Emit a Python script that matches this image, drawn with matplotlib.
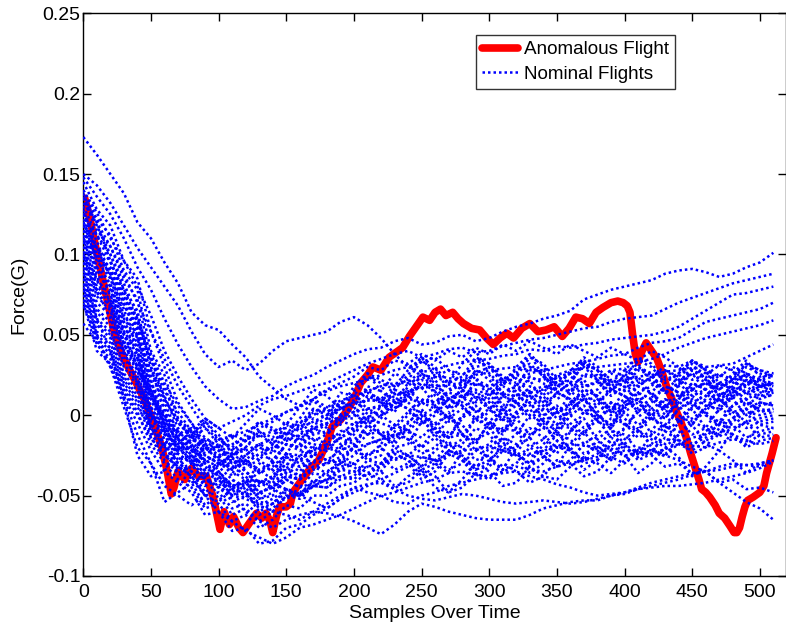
import matplotlib
matplotlib.use("Agg")
import matplotlib.pyplot as plt
import numpy as np

plt.rcParams['font.family'] = ['Liberation Sans', 'DejaVu Sans']

# ---------------- data ----------------
# Sample positions for the nominal flights (every 10 samples)
nom_x = list(range(0, 511, 10))

# Nominal flights, values in milli-G
nom_u1 = [173,162,150,138,120,110,95,82,64,56,53,44,36,24,17,10,6,9,2,8,12,4,6,12,15,9,8,15,19,11,13,20,23,14,16,24,26,18,21,28,29,21,23,31,30,22,25,31,28,20,23,26]
nom_u2 = [150,143,132,118,104,92,80,68,52,38,30,34,28,32,40,46,48,50,52,58,61,56,48,38,30,33,36,28,25,30,32,24,20,26,28,20,18,24,25,18,15,20,22,14,12,17,20,13,14,19,22,18]
nom_u3 = [148,136,125,110,92,78,60,44,30,18,10,4,5,9,12,18,22,25,30,34,38,41,42,46,48,44,45,49,50,46,48,52,55,57,60,62,65,72,75,78,80,82,84,88,90,91,89,86,88,92,95,101]
nom_u4 = [140,126,110,96,80,62,40,24,10,-2,-8,-4,0,6,10,12,15,18,20,24,28,32,35,38,40,36,38,41,42,39,40,43,45,47,48,50,52,54,55,58,60,61,62,66,70,73,76,79,82,84,86,88]
nom_u5 = [132,120,105,88,70,52,35,18,5,-8,-15,-13,-10,-6,-2,2,5,10,15,18,20,22,25,28,30,27,28,31,33,34,35,37,38,41,40,43,42,44,45,47,48,49,50,52,55,60,65,70,75,76,78,80]
nom_u6 = [125,112,95,78,60,38,20,6,-5,-14,-20,-18,-15,-13,-10,-8,-5,0,5,9,12,15,18,20,20,23,25,23,22,25,28,29,30,28,28,30,32,33,35,37,38,42,45,46,48,53,58,60,62,64,66,70]
nom_u7 = [118,104,90,74,55,34,15,2,-10,-18,-25,-24,-22,-18,-15,-12,-8,-4,0,4,8,9,10,13,15,17,18,19,20,19,18,22,25,23,22,25,28,29,30,31,32,33,35,38,42,45,48,50,52,54,56,59]
nom_u8 = [110,100,88,70,48,28,10,-4,-15,-20,-22,-27,-30,-24,-20,-16,-12,-8,-5,-1,2,4,5,8,10,9,8,10,12,14,15,13,12,15,18,16,15,18,20,21,22,24,25,27,28,29,30,31,32,36,40,44]
nom_b1 = [145,128,118,96,85,52,30,8,-5,-18,-20,-30,-28,-36,-32,-24,-25,-22,-15,-12,-5,-4,2,10,8,0,5,14,12,2,8,18,14,6,10,20,15,8,12,22,18,9,14,24,20,12,16,25,22,13,18,20]
nom_b2 = [140,122,112,90,78,40,25,-2,-10,-20,-28,-28,-35,-44,-40,-30,-32,-30,-22,-20,-12,-2,-5,-8,0,8,4,-4,-2,10,5,-3,0,12,6,-2,2,12,8,0,4,14,10,2,6,16,12,6,10,20,15,14]
nom_b3 = [135,115,105,85,72,35,18,-5,-12,-25,-30,-32,-38,-48,-45,-38,-40,-34,-30,-28,-20,-12,-10,-14,-4,2,-8,-14,0,4,-4,-10,2,8,-2,-8,4,10,0,-6,6,10,2,-2,8,12,6,4,12,14,10,13]
nom_b4 = [130,112,100,78,65,30,12,-8,-18,-30,-35,-44,-42,-52,-48,-40,-45,-42,-35,-30,-25,-18,-15,-6,-10,-14,-5,0,-12,-16,-6,0,-10,-14,-4,2,-8,-12,-2,4,-6,-10,0,6,-4,-2,4,10,2,4,8,6]
nom_b5 = [128,104,96,72,60,25,8,-12,-20,-28,-32,-40,-45,-56,-52,-46,-48,-42,-40,-34,-30,-24,-22,-12,-15,-24,-20,-10,-12,-22,-18,-8,-10,-20,-15,-6,-8,-18,-12,-2,-5,-14,-10,2,-3,-12,-8,4,0,-8,-4,-2]
nom_b6 = [125,100,92,68,55,20,5,-15,-25,-35,-40,-50,-48,-58,-55,-48,-50,-44,-45,-40,-38,-28,-30,-22,-25,-32,-28,-18,-20,-28,-25,-14,-18,-26,-22,-12,-15,-24,-20,-10,-12,-22,-18,-6,-10,-18,-14,-4,-6,-14,-10,-8]
nom_b7 = [122,98,88,62,50,18,0,-20,-28,-30,-38,-46,-42,-52,-50,-40,-45,-36,-38,-30,-32,-40,-35,-24,-28,-38,-32,-22,-25,-34,-30,-18,-22,-32,-26,-16,-20,-30,-28,-14,-18,-28,-24,-10,-15,-24,-20,-8,-12,-20,-16,-14]
nom_b8 = [120,96,85,60,48,15,-2,-18,-22,-34,-30,-28,-35,-42,-38,-26,-30,-18,-20,-14,-10,2,0,4,10,20,15,4,8,22,18,6,12,24,20,10,15,26,22,12,18,28,25,14,20,30,26,18,22,32,28,24]
nom_b9 = [118,92,82,58,45,10,-5,-10,-18,-28,-25,-20,-28,-34,-30,-18,-22,-16,-12,-2,0,12,10,4,18,26,22,10,15,28,25,14,18,30,26,14,20,32,28,16,22,30,26,14,20,28,24,12,18,26,22,20]
nom_b10 = [115,90,80,55,42,5,-8,-14,-20,-16,-22,-30,-25,-18,-22,-10,-15,-8,-5,8,5,18,15,26,22,34,28,16,20,34,30,20,24,36,32,22,26,36,30,20,28,36,32,22,26,34,30,20,24,32,28,26]
nom_b11 = [112,88,78,52,40,2,-10,-20,-15,-8,-18,-26,-20,-12,-18,-6,-10,4,0,14,12,24,20,16,25,36,30,20,24,36,32,22,26,38,30,18,22,34,28,16,20,30,25,14,18,28,22,12,16,26,20,18]
nom_b12 = [110,84,75,50,38,0,-12,-28,-25,-38,-32,-24,-30,-36,-28,-18,-20,-12,-10,-2,-2,12,8,4,12,22,18,6,10,20,16,4,8,18,14,2,6,16,12,2,8,18,14,4,10,20,16,8,12,22,18,15]
nom_b13 = [108,80,72,46,35,12,-6,-22,-20,-30,-26,-38,-32,-28,-34,-24,-28,-22,-18,-10,-8,-12,-2,8,4,-6,0,10,6,-4,2,12,8,-2,4,14,10,0,6,16,12,2,8,18,14,4,10,20,16,6,12,14]
nom_b14 = [105,78,70,44,32,0,-15,-24,-30,-42,-35,-46,-40,-50,-42,-34,-38,-28,-30,-20,-22,-26,-18,-6,-10,-20,-14,-2,-6,-16,-10,4,-2,-12,-8,4,0,-8,-4,8,2,-6,-2,10,6,-4,2,14,10,0,6,8]
nom_b15 = [102,76,68,44,30,14,-4,-16,-12,-4,-15,-20,-12,-4,-8,-12,-2,10,5,0,15,26,22,18,28,36,24,20,32,40,26,18,30,38,24,16,28,34,22,14,26,32,20,14,24,32,22,16,26,34,24,25]
nom_b16 = [100,74,65,40,28,-5,-18,-30,-35,-48,-42,-54,-50,-40,-45,-32,-38,-24,-28,-22,-18,-6,-12,-16,-5,4,-10,-14,-2,6,-6,-12,2,8,-4,-10,4,10,0,-6,8,14,4,-2,10,16,8,2,14,18,12,12]
nom_b17 = [98,70,62,38,25,-8,-20,-14,-28,-36,-30,-26,-35,-42,-38,-30,-35,-24,-28,-30,-20,-6,-12,-18,-8,0,-14,-22,-18,-8,-12,-22,-20,-8,-14,-24,-10,-2,-16,-22,-8,2,-12,-18,-4,4,-8,-14,-2,4,-6,-4]
nom_b18 = [95,66,58,36,22,2,-12,-18,-10,-2,-8,-14,-5,4,0,-6,5,16,12,4,18,26,15,8,20,28,12,4,18,24,10,2,16,22,8,0,14,22,10,2,16,24,12,4,18,26,15,8,20,26,18,19]
nom_b19 = [92,64,55,32,20,-10,-25,-32,-38,-50,-45,-40,-48,-60,-55,-46,-50,-40,-42,-34,-35,-38,-30,-20,-25,-32,-22,-16,-28,-34,-20,-14,-24,-30,-18,-10,-22,-28,-15,-8,-18,-24,-12,-6,-16,-20,-10,-4,-12,-16,-6,-8]
nom_b20 = [90,60,52,30,18,-2,-15,-30,-25,-14,-20,-26,-15,-4,-10,-16,-5,4,2,-6,10,16,8,2,14,18,6,-2,12,16,4,-4,10,14,2,-6,8,12,0,-8,6,10,-2,-8,4,10,0,-6,6,10,2,4]
nom_b21 = [88,58,50,26,15,-12,-22,-36,-32,-20,-28,-34,-25,-18,-30,-36,-25,-14,-18,-24,-8,0,-12,-20,-18,-4,-10,-20,-15,-2,-8,-18,-12,0,-5,-16,-10,2,-2,-14,-8,4,0,-10,-4,6,2,-6,-2,8,4,2]
nom_b22 = [85,56,48,24,12,0,-8,-22,-15,-4,-12,-24,-20,-10,-18,-24,-12,-2,-8,-18,-15,-10,-20,-28,-25,-18,-30,-36,-22,-16,-28,-34,-20,-14,-25,-32,-18,-10,-22,-28,-15,-8,-20,-26,-12,-6,-18,-22,-10,-4,-14,-12]
nom_b23 = [82,52,45,22,10,-6,-18,-34,-30,-44,-40,-50,-45,-34,-40,-26,-32,-24,-20,-14,-8,-2,5,14,12,26,20,10,15,28,22,12,18,30,25,14,20,32,28,18,24,34,30,20,26,34,28,16,22,30,26,24]
nom_b24 = [80,50,42,20,8,-14,-28,-36,-42,-56,-50,-62,-58,-66,-60,-50,-52,-44,-40,-32,-30,-24,-22,-10,-15,-20,-8,2,-12,-18,-4,4,-8,-14,0,6,-5,-12,2,8,-2,-10,4,10,0,-6,6,12,2,-4,8,6]
nom_b25 = [78,48,40,18,5,-8,-20,-30,-35,-44,-38,-48,-42,-30,-35,-24,-28,-20,-22,-14,-18,-28,-25,-34,-30,-40,-35,-24,-28,-38,-32,-22,-25,-36,-30,-20,-22,-34,-28,-18,-25,-36,-30,-20,-26,-38,-32,-22,-28,-36,-30,-28]
nom_b26 = [75,46,38,16,2,-18,-30,-40,-45,-58,-55,-66,-62,-70,-65,-56,-58,-50,-50,-44,-42,-36,-40,-46,-38,-34,-45,-48,-40,-30,-35,-44,-42,-32,-38,-40,-32,-26,-30,-36,-28,-20,-22,-24,-18,-14,-12,-6,-8,-4,-2,0]
nom_b27 = [72,44,35,14,0,-14,-25,-32,-38,-50,-48,-58,-55,-62,-58,-50,-50,-44,-45,-38,-40,-32,-35,-44,-42,-34,-38,-48,-45,-36,-40,-30,-35,-42,-38,-28,-30,-38,-35,-26,-30,-22,-25,-32,-30,-36,-35,-42,-40,-46,-45,-48]
nom_b28 = [70,40,32,12,-5,-22,-35,-42,-48,-62,-60,-72,-70,-80,-78,-70,-68,-62,-58,-52,-48,-44,-40,-36,-32,-26,-28,-34,-30,-22,-26,-34,-30,-20,-25,-32,-28,-18,-22,-28,-18,-10,-15,-20,-12,-4,-8,-12,-4,2,0,2]
nom_b29 = [138,118,100,82,62,30,2,-15,-22,-28,-25,-32,-30,-24,-28,-18,-20,-10,-6,0,4,10,8,16,12,6,14,20,16,8,12,22,18,10,14,24,20,12,16,26,22,14,18,28,24,16,20,26,22,14,18,20]
nom_b30 = [126,108,88,70,52,22,-6,-24,-30,-20,-26,-34,-28,-20,-24,-14,-18,-8,-12,-4,-6,4,0,-6,2,10,6,-2,4,12,8,0,6,14,10,2,8,16,12,4,10,18,14,6,12,20,16,10,14,22,18,16]
nom_b31 = [136,120,96,76,58,36,10,-4,-14,-22,-18,-12,-16,-8,-4,2,6,10,16,20,24,30,28,34,32,38,34,40,36,42,38,44,40,46,42,38,44,40,36,42,38,34,40,36,30,34,28,24,30,26,22,24]
nom_b32 = [98,84,66,44,28,14,-2,-12,-8,-18,-14,-22,-16,-10,-14,-4,-8,2,-2,6,2,-6,0,8,4,-4,2,10,6,-2,4,12,8,0,6,14,10,2,8,16,12,4,10,18,14,8,12,20,16,10,14,16]
nom_b33 = [68,50,30,10,-12,-30,-44,-50,-56,-50,-54,-46,-50,-42,-46,-38,-40,-32,-36,-28,-30,-36,-32,-24,-28,-34,-30,-22,-26,-32,-28,-20,-24,-30,-26,-18,-22,-28,-24,-16,-20,-26,-22,-14,-18,-22,-16,-10,-14,-18,-12,-10]
nom_b34 = [120,104,86,66,40,16,-8,-2,-12,-24,-20,-14,-22,-28,-18,-10,-16,-6,-2,4,8,14,10,18,22,16,24,28,20,26,30,22,28,32,24,20,26,30,22,28,24,18,24,28,22,26,20,16,22,24,18,20]
nom_l1 = [57,45,30,5,-20,-30,-54,-48,-42,-38,-35,-44,-40,-48,-45,-36,-40,-32,-30,-26,-20,-18,-15,-12,-10,-2,-5,-14,-12,-2,-6,-10,-2,4,-8,-12,0,6,-4,-8,2,8,-2,-6,4,8,0,-4,6,10,2,4]
nom_l2 = [85,60,40,10,-25,-38,-35,-20,-28,-40,-45,-50,-52,-56,-60,-62,-65,-60,-55,-50,-45,-48,-50,-54,-55,-50,-48,-44,-42,-40,-38,-36,-35,-38,-40,-43,-45,-48,-50,-49,-48,-45,-42,-40,-38,-36,-35,-32,-30,-31,-32,-28]
nom_d1 = [95,78,60,40,20,5,-10,-20,-30,-38,-45,-52,-60,-66,-70,-65,-62,-60,-61,-63,-66,-70,-74,-68,-60,-55,-57,-60,-62,-64,-65,-65,-65,-62,-58,-56,-54,-53,-53,-50,-48,-46,-45,-44,-44,-43,-42,-40,-38,-36,-33,-29]
nom_d2 = [100,86,70,50,30,12,-5,-15,-25,-32,-38,-44,-50,-54,-55,-52,-48,-44,-40,-38,-35,-32,-30,-27,-25,-26,-28,-25,-22,-21,-20,-22,-25,-24,-22,-20,-18,-19,-20,-22,-25,-24,-22,-25,-28,-32,-35,-42,-48,-54,-58,-65]
nom_d3 = [115,98,80,58,35,15,0,-10,-20,-25,-30,-35,-40,-41,-42,-46,-50,-54,-58,-52,-45,-43,-42,-46,-50,-52,-53,-51,-49,-50,-52,-54,-55,-54,-53,-54,-55,-54,-52,-50,-49,-46,-44,-42,-40,-37,-35,-34,-32,-31,-30,-28]
nom_d4 = [108,92,75,52,30,10,-10,-25,-40,-50,-60,-66,-72,-76,-80,-76,-70,-68,-65,-62,-58,-54,-50,-48,-45,-42,-40,-36,-35,-37,-38,-35,-32,-34,-35,-32,-30,-28,-26,-24,-22,-23,-24,-21,-18,-19,-20,-17,-15,-16,-18,-16]

nominal = [nom_u1, nom_u2, nom_u3, nom_u4, nom_u5, nom_u6, nom_u7, nom_u8,
           nom_b1, nom_b2, nom_b3, nom_b4, nom_b5, nom_b6, nom_b7, nom_b8, nom_b9,
           nom_b10, nom_b11, nom_b12, nom_b13, nom_b14, nom_b15, nom_b16, nom_b17,
           nom_b18, nom_b19, nom_b20, nom_b21, nom_b22, nom_b23, nom_b24, nom_b25,
           nom_b26, nom_b27, nom_b28, nom_b29, nom_b30, nom_b31, nom_b32, nom_b33,
           nom_b34, nom_l1, nom_l2, nom_d1, nom_d2, nom_d3, nom_d4]

# Anomalous flight (samples, milli-G)
anom_x = [1,5,9,16,23,30,38,45,52,58,62,65,67,70,75,80,85,91,96,101,104,108,111,115,118,122,
          128,132,135,138,140,143,145,150,153,155,160,167,174,180,184,190,195,200,205,210,214,
          220,226,231,236,241,246,251,256,260,264,268,273,277,281,287,293,298,303,308,313,318,
          324,330,336,342,348,354,359,364,369,374,379,384,390,395,399,402,404,406,408,410,413,
          416,420,424,428,431,435,438,442,446,449,452,455,457,460,463,467,470,474,478,481,483,
          485,487,489,491,495,500,503,505,507,509,512]
anom_y = [135,122,105,78,51,35,22,10,-5,-20,-35,-49,-45,-35,-40,-33,-38,-38,-51,-71,-60,-68,-63,
          -70,-73,-68,-61,-64,-61,-66,-73,-62,-57,-57,-55,-48,-42,-34,-28,-17,-7,-3,3,10,20,25,
          30,28,36,39,42,49,55,61,59,64,66,62,64,60,57,54,53,48,44,48,51,48,54,57,52,53,55,49,
          54,61,60,57,64,67,70,71,70,68,64,50,38,33,40,45,40,35,26,18,10,3,-5,-15,-24,-32,-40,
          -46,-48,-51,-56,-61,-64,-69,-73,-73,-70,-63,-57,-53,-51,-48,-44,-36,-30,-24,-14]

x_ticks = [0, 50, 100, 150, 200, 250, 300, 350, 400, 450, 500]
y_ticks = [-0.1, -0.05, 0, 0.05, 0.1, 0.15, 0.2, 0.25]
y_tick_labels = ['-0.1', '-0.05', '0', '0.05', '0.1', '0.15', '0.2', '0.25']

# ---------------- figure ----------------
fig = plt.figure(figsize=(7.86, 6.29), dpi=100)
ax = fig.add_axes([0.106, 0.0843, 0.8934, 0.8946])

ax.plot(anom_x, np.array(anom_y) / 1000.0, color='#ff0000', lw=5.5,
        solid_capstyle='round', solid_joinstyle='round', zorder=2,
        label='Anomalous Flight')
for i, ys in enumerate(nominal):
    n = min(len(ys), len(nom_x))
    ax.plot(nom_x[:n], np.array(ys[:n]) / 1000.0, color='#0000ff', lw=1.8,
            linestyle=(0, (1.0, 1.2)), zorder=3,
            label='Nominal Flights' if i == 0 else None)

ax.set_xlim(0, 519)
ax.set_ylim(-0.1, 0.25)
ax.set_xticks(x_ticks)
ax.set_yticks(y_ticks)
ax.set_yticklabels(y_tick_labels)
ax.tick_params(direction='in', length=6, width=1, top=True, right=True,
               labelsize=14, colors='black')
ax.tick_params(axis='x', pad=5.5)
ax.tick_params(axis='y', pad=2)
for s in ax.spines.values():
    s.set_linewidth(1.0)
    s.set_color('black')

ax.set_xlabel('Samples Over Time', fontsize=14, labelpad=3)
ax.set_ylabel('Force(G)', fontsize=14, labelpad=6)

leg = ax.legend(loc='upper left', bbox_to_anchor=(476 / 786, 1 - 35 / 629),
                bbox_transform=fig.transFigure, fontsize=13.6, frameon=True,
                fancybox=False, handlelength=1.9, borderpad=0.33,
                labelspacing=0.38, handletextpad=0.3, borderaxespad=0)
leg.get_frame().set_edgecolor('black')
leg.get_frame().set_linewidth(1.0)

fig.savefig('out.png', dpi=100)
